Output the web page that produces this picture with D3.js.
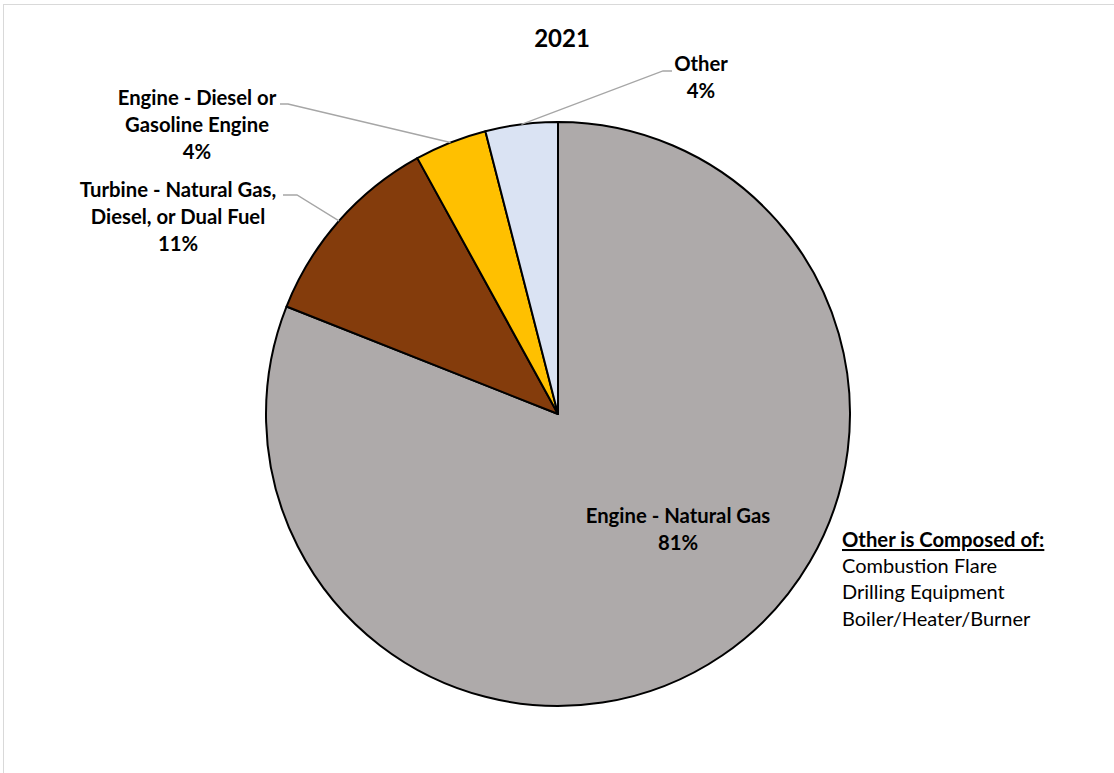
<!DOCTYPE html>
<html>
<head>
<meta charset="utf-8">
<script src="https://cdn.jsdelivr.net/npm/d3@7"></script>
<style>
  html, body { margin: 0; padding: 0; background: #fff; }
  svg { display: block; }
  text { font-family: Lato, "Open Sans", sans-serif; fill: #000; }
</style>
</head>
<body>
<svg id="chart" width="1114" height="773"></svg>
<script>
// Fuel-use categories, clockwise from 12 o'clock
const categories = ["Engine - Natural Gas", "Turbine - Natural Gas, Diesel, or Dual Fuel", "Engine - Diesel or Gasoline Engine", "Other"];
const shares = [81, 11, 4, 4];
const colors = ["#AEAAAA", "#843C0C", "#FFC000", "#DAE3F3"];
const labelLines = [
  ["Engine - Natural Gas", "81%"],
  ["Turbine - Natural Gas,", "Diesel, or Dual Fuel", "11%"],
  ["Engine - Diesel or", "Gasoline Engine", "4%"],
  ["Other", "4%"]
];
const title = "2021";
const noteHeading = "Other is Composed of:";
const noteItems = ["Combustion Flare", "Drilling Equipment", "Boiler/Heater/Burner"];

const svg = d3.select("#chart");
const W = 1114, H = 773;

// outer frame
svg.append("rect")
  .attr("x", 3.5).attr("y", 4.5).attr("width", W + 2).attr("height", H + 2)
  .attr("fill", "none").attr("stroke", "#d9d9d9").attr("stroke-width", 1);

const cx = 558, cy = 414, R = 292;

svg.append("text")
  .attr("x", 562).attr("y", 47)
  .attr("text-anchor", "middle")
  .attr("font-size", 24).attr("font-weight", "bold")
  .text(title);

const data = categories.map((c, i) => ({ cat: c, value: shares[i], color: colors[i], lines: labelLines[i] }));
const pie = d3.pie().sort(null).value(d => d.value);
const arcs = pie(data);
const arc = d3.arc().innerRadius(0).outerRadius(R);

const g = svg.append("g").attr("transform", `translate(${cx},${cy})`);
g.selectAll("path.slice")
  .data(arcs)
  .enter().append("path")
  .attr("class", "slice")
  .attr("d", arc)
  .attr("fill", d => d.data.color)
  .attr("stroke", "#000")
  .attr("stroke-width", 2)
  .attr("stroke-linejoin", "round");

// label placements (center x, first baseline y) and leader elbow per slice
const labelPos = [
  { x: 678, y: 523, leader: null },
  { x: 178, y: 197, leader: { ex: 297, ey: 195, sx: 283 } },
  { x: 197, y: 105, leader: { ex: 288, ey: 104, sx: 280 } },
  { x: 701, y: 71,  leader: { ex: 663, ey: 71,  sx: 672 } }
];
const lineH = 27;
const labelSize = 20.3;

arcs.forEach((a, i) => {
  const p = labelPos[i];
  const t = svg.append("text")
    .attr("text-anchor", "middle")
    .attr("font-size", labelSize).attr("font-weight", "bold");
  a.data.lines.forEach((ln, k) => {
    t.append("tspan").attr("x", p.x).attr("y", p.y + k * lineH).text(ln);
  });
  if (p.leader) {
    const mid = (a.startAngle + a.endAngle) / 2;
    const rx = cx + R * Math.sin(mid);
    const ry = cy - R * Math.cos(mid);
    svg.append("polyline")
      .attr("points", `${p.leader.sx},${p.leader.ey} ${p.leader.ex},${p.leader.ey} ${rx},${ry}`)
      .attr("fill", "none")
      .attr("stroke", "#a6a6a6")
      .attr("stroke-width", 1.3);
  }
});

// note about what "Other" contains
const nx = 842;
svg.append("text")
  .attr("x", nx).attr("y", 547)
  .attr("font-size", labelSize).attr("font-weight", "bold")
  .attr("text-decoration", "underline")
  .text(noteHeading);
noteItems.forEach((s, k) => {
  svg.append("text")
    .attr("x", nx).attr("y", 572.5 + k * 26.5)
    .attr("font-size", 20)
    .text(s);
});
</script>
</body>
</html>
